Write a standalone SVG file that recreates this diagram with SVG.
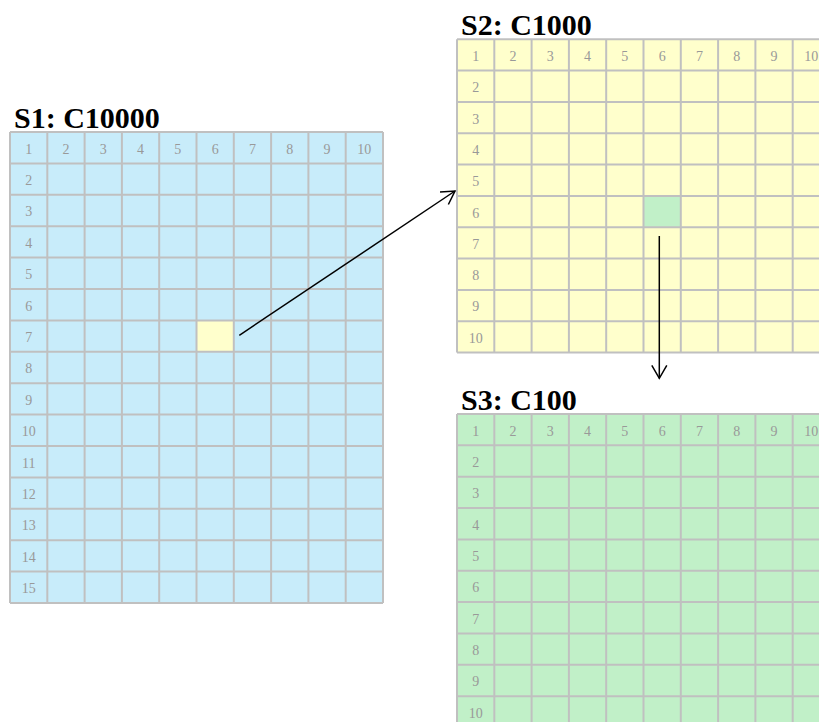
<svg xmlns="http://www.w3.org/2000/svg" width="819" height="722" viewBox="0 0 819 722">
<style>
.title{font-family:"Liberation Serif",serif;font-weight:bold;font-size:30px;fill:#000}
.num{font-family:"Liberation Serif",serif;font-size:14px;fill:#999;text-anchor:middle}
.grid line{stroke:#c0c0c0;stroke-width:2}
.frame{fill:none;stroke:#c0c0c0;stroke-width:2}
.conn{stroke:#000;stroke-width:1.5;fill:none}
</style>
<defs>
<marker id="arr" viewBox="-15 -9 17 18" markerWidth="17" markerHeight="18" refX="0" refY="0" orient="auto" markerUnits="userSpaceOnUse">
<path d="M-13,-7.5 L0,0 L-13,7.5" fill="none" stroke="#000" stroke-width="1.5"/>
</marker>
</defs>
<rect width="819" height="722" fill="#fff"/>

<g id="s1">
<text class="title" x="14" y="128">S1: C10000</text>
<rect x="10" y="132" width="373" height="471" fill="#c8ecfa"/>
<rect x="196.5" y="320.4" width="37.3" height="31.4" fill="#ffffcc"/>
<g class="grid">
<line x1="10" y1="132" x2="10" y2="603"/><line x1="47.3" y1="132" x2="47.3" y2="603"/><line x1="84.6" y1="132" x2="84.6" y2="603"/><line x1="121.9" y1="132" x2="121.9" y2="603"/><line x1="159.2" y1="132" x2="159.2" y2="603"/><line x1="196.5" y1="132" x2="196.5" y2="603"/><line x1="233.8" y1="132" x2="233.8" y2="603"/><line x1="271.1" y1="132" x2="271.1" y2="603"/><line x1="308.4" y1="132" x2="308.4" y2="603"/><line x1="345.7" y1="132" x2="345.7" y2="603"/><line x1="383" y1="132" x2="383" y2="603"/>
<line x1="10" y1="132" x2="383" y2="132"/><line x1="10" y1="163.4" x2="383" y2="163.4"/><line x1="10" y1="194.8" x2="383" y2="194.8"/><line x1="10" y1="226.2" x2="383" y2="226.2"/><line x1="10" y1="257.6" x2="383" y2="257.6"/><line x1="10" y1="289" x2="383" y2="289"/><line x1="10" y1="320.4" x2="383" y2="320.4"/><line x1="10" y1="351.8" x2="383" y2="351.8"/><line x1="10" y1="383.2" x2="383" y2="383.2"/><line x1="10" y1="414.6" x2="383" y2="414.6"/><line x1="10" y1="446" x2="383" y2="446"/><line x1="10" y1="477.4" x2="383" y2="477.4"/><line x1="10" y1="508.8" x2="383" y2="508.8"/><line x1="10" y1="540.2" x2="383" y2="540.2"/><line x1="10" y1="571.6" x2="383" y2="571.6"/><line x1="10" y1="603" x2="383" y2="603"/>
</g>
<text class="num" x="28.65" y="153.5">1</text><text class="num" x="65.95" y="153.5">2</text><text class="num" x="103.25" y="153.5">3</text><text class="num" x="140.55" y="153.5">4</text><text class="num" x="177.85" y="153.5">5</text><text class="num" x="215.15" y="153.5">6</text><text class="num" x="252.45" y="153.5">7</text><text class="num" x="289.75" y="153.5">8</text><text class="num" x="327.05" y="153.5">9</text><text class="num" x="364.35" y="153.5">10</text>
<text class="num" x="28.65" y="184.9">2</text><text class="num" x="28.65" y="216.3">3</text><text class="num" x="28.65" y="247.7">4</text><text class="num" x="28.65" y="279.1">5</text><text class="num" x="28.65" y="310.5">6</text><text class="num" x="28.65" y="341.9">7</text><text class="num" x="28.65" y="373.3">8</text><text class="num" x="28.65" y="404.7">9</text><text class="num" x="28.65" y="436.1">10</text><text class="num" x="28.65" y="467.5">11</text><text class="num" x="28.65" y="498.9">12</text><text class="num" x="28.65" y="530.3">13</text><text class="num" x="28.65" y="561.7">14</text><text class="num" x="28.65" y="593.1">15</text>
</g>

<g id="s2">
<text class="title" x="461" y="35">S2: C1000</text>
<rect x="457" y="39.3" width="373" height="313.3" fill="#ffffcc"/>
<rect x="643.5" y="195.95" width="37.3" height="31.35" fill="#c1f0c8"/>
<g class="grid">
<line x1="457" y1="39.3" x2="457" y2="352.6"/><line x1="494.3" y1="39.3" x2="494.3" y2="352.6"/><line x1="531.6" y1="39.3" x2="531.6" y2="352.6"/><line x1="568.9" y1="39.3" x2="568.9" y2="352.6"/><line x1="606.2" y1="39.3" x2="606.2" y2="352.6"/><line x1="643.5" y1="39.3" x2="643.5" y2="352.6"/><line x1="680.8" y1="39.3" x2="680.8" y2="352.6"/><line x1="718.1" y1="39.3" x2="718.1" y2="352.6"/><line x1="755.4" y1="39.3" x2="755.4" y2="352.6"/><line x1="792.7" y1="39.3" x2="792.7" y2="352.6"/><line x1="830" y1="39.3" x2="830" y2="352.6"/>
<line x1="457" y1="39.3" x2="830" y2="39.3"/><line x1="457" y1="70.6" x2="830" y2="70.6"/><line x1="457" y1="102" x2="830" y2="102"/><line x1="457" y1="133.3" x2="830" y2="133.3"/><line x1="457" y1="164.6" x2="830" y2="164.6"/><line x1="457" y1="195.95" x2="830" y2="195.95"/><line x1="457" y1="227.3" x2="830" y2="227.3"/><line x1="457" y1="258.6" x2="830" y2="258.6"/><line x1="457" y1="289.9" x2="830" y2="289.9"/><line x1="457" y1="321.3" x2="830" y2="321.3"/><line x1="457" y1="352.6" x2="830" y2="352.6"/>
</g>
<text class="num" x="475.65" y="60.8">1</text><text class="num" x="512.95" y="60.8">2</text><text class="num" x="550.25" y="60.8">3</text><text class="num" x="587.55" y="60.8">4</text><text class="num" x="624.85" y="60.8">5</text><text class="num" x="662.15" y="60.8">6</text><text class="num" x="699.45" y="60.8">7</text><text class="num" x="736.75" y="60.8">8</text><text class="num" x="774.05" y="60.8">9</text><text class="num" x="811.35" y="60.8">10</text>
<text class="num" x="475.65" y="92.1">2</text><text class="num" x="475.65" y="123.5">3</text><text class="num" x="475.65" y="154.8">4</text><text class="num" x="475.65" y="186.1">5</text><text class="num" x="475.65" y="217.5">6</text><text class="num" x="475.65" y="248.8">7</text><text class="num" x="475.65" y="280.1">8</text><text class="num" x="475.65" y="311.4">9</text><text class="num" x="475.65" y="342.8">10</text>
</g>

<g id="s3">
<text class="title" x="461" y="410">S3: C100</text>
<rect x="457" y="414" width="373" height="313.5" fill="#c1f0c8"/>
<g class="grid">
<line x1="457" y1="414" x2="457" y2="727.5"/><line x1="494.3" y1="414" x2="494.3" y2="727.5"/><line x1="531.6" y1="414" x2="531.6" y2="727.5"/><line x1="568.9" y1="414" x2="568.9" y2="727.5"/><line x1="606.2" y1="414" x2="606.2" y2="727.5"/><line x1="643.5" y1="414" x2="643.5" y2="727.5"/><line x1="680.8" y1="414" x2="680.8" y2="727.5"/><line x1="718.1" y1="414" x2="718.1" y2="727.5"/><line x1="755.4" y1="414" x2="755.4" y2="727.5"/><line x1="792.7" y1="414" x2="792.7" y2="727.5"/><line x1="830" y1="414" x2="830" y2="727.5"/>
<line x1="457" y1="414" x2="830" y2="414"/><line x1="457" y1="445.35" x2="830" y2="445.35"/><line x1="457" y1="476.7" x2="830" y2="476.7"/><line x1="457" y1="508.05" x2="830" y2="508.05"/><line x1="457" y1="539.4" x2="830" y2="539.4"/><line x1="457" y1="570.75" x2="830" y2="570.75"/><line x1="457" y1="602.1" x2="830" y2="602.1"/><line x1="457" y1="633.45" x2="830" y2="633.45"/><line x1="457" y1="664.8" x2="830" y2="664.8"/><line x1="457" y1="696.15" x2="830" y2="696.15"/><line x1="457" y1="727.5" x2="830" y2="727.5"/>
</g>
<text class="num" x="475.65" y="435.5">1</text><text class="num" x="512.95" y="435.5">2</text><text class="num" x="550.25" y="435.5">3</text><text class="num" x="587.55" y="435.5">4</text><text class="num" x="624.85" y="435.5">5</text><text class="num" x="662.15" y="435.5">6</text><text class="num" x="699.45" y="435.5">7</text><text class="num" x="736.75" y="435.5">8</text><text class="num" x="774.05" y="435.5">9</text><text class="num" x="811.35" y="435.5">10</text>
<text class="num" x="475.65" y="466.85">2</text><text class="num" x="475.65" y="498.2">3</text><text class="num" x="475.65" y="529.55">4</text><text class="num" x="475.65" y="560.9">5</text><text class="num" x="475.65" y="592.25">6</text><text class="num" x="475.65" y="623.6">7</text><text class="num" x="475.65" y="654.95">8</text><text class="num" x="475.65" y="686.3">9</text><text class="num" x="475.65" y="717.65">10</text>
</g>

<g id="connectors">
<line class="conn" x1="239.3" y1="335.3" x2="455" y2="191" marker-end="url(#arr)"/>
<line class="conn" x1="659.3" y1="236" x2="659.3" y2="378.3" marker-end="url(#arr)"/>
</g>
</svg>
